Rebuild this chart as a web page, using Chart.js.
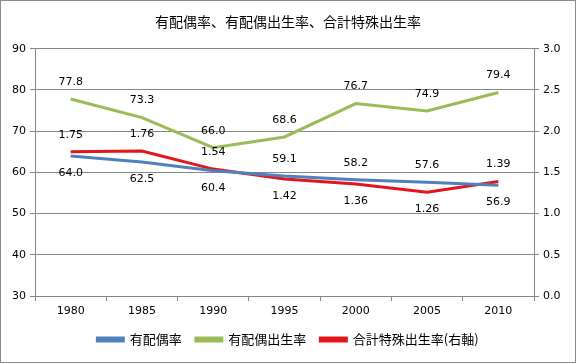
<!DOCTYPE html>
<html>
<head>
<meta charset="utf-8">
<script src="https://cdn.jsdelivr.net/npm/chart.js@4"></script>
<style>
  html, body { margin: 0; padding: 0; background: #fff; }
  #wrap { width: 576px; height: 363px; }
</style>
</head>
<body>
<div id="wrap"><canvas id="chart" width="576" height="363"></canvas></div>
<script>
const years = ['1980', '1985', '1990', '1995', '2000', '2005', '2010'];
const marriedRate = [64.0, 62.5, 60.4, 59.1, 58.2, 57.6, 56.9];
const maritalFertility = [77.8, 73.3, 66.0, 68.6, 76.7, 74.9, 79.4];
const totalFertility = [1.75, 1.76, 1.54, 1.42, 1.36, 1.26, 1.39];

// label side per point: 'a' above, 'b' below
const labelSide = [
    ['b', 'b', 'b', 'a', 'a', 'a', 'b'],
    ['a', 'a', 'a', 'a', 'a', 'a', 'a'],
    ['a', 'a', 'a', 'b', 'b', 'b', 'a']
];
const labelDigits = [1, 1, 2];

const numFont = '"DejaVu Sans", Verdana, sans-serif';
const jpFont = '"Noto Sans CJK JP", "Noto Sans", sans-serif';

const frame = {
    id: 'frame',
    beforeDraw(chart) {
        const ctx = chart.ctx;
        ctx.save();
        ctx.fillStyle = '#fff';
        ctx.fillRect(0, 0, chart.width, chart.height);
        ctx.strokeStyle = '#8c8c8c';
        ctx.lineWidth = 1;
        ctx.strokeRect(0.5, 0.5, chart.width - 1, chart.height - 1);
        ctx.restore();
    }
};

const valueLabels = {
    id: 'valueLabels',
    afterDatasetsDraw(chart) {
        const ctx = chart.ctx;
        ctx.save();
        ctx.font = '11px ' + numFont;
        ctx.fillStyle = '#000';
        ctx.textAlign = 'center';
        ctx.textBaseline = 'middle';
        chart.data.datasets.forEach((ds, i) => {
            const meta = chart.getDatasetMeta(i);
            meta.data.forEach((pt, j) => {
                const off = labelSide[i][j] === 'a' ? -17 : 17;
                ctx.fillText(ds.data[j].toFixed(labelDigits[i]), pt.x, pt.y + off);
            });
        });
        ctx.restore();
    }
};

new Chart(document.getElementById('chart'), {
    type: 'line',
    data: {
        labels: years,
        datasets: [{
            label: '有配偶率',
            data: marriedRate,
            borderColor: '#4f81bd',
            backgroundColor: '#4f81bd',
            borderWidth: 3,
            pointRadius: 0,
            yAxisID: 'y'
        }, {
            label: '有配偶出生率',
            data: maritalFertility,
            borderColor: '#9bbb59',
            backgroundColor: '#9bbb59',
            borderWidth: 3,
            pointRadius: 0,
            yAxisID: 'y'
        }, {
            label: '合計特殊出生率(右軸)',
            data: totalFertility,
            borderColor: '#e3161c',
            backgroundColor: '#e3161c',
            borderWidth: 3,
            pointRadius: 0,
            yAxisID: 'y1'
        }]
    },
    options: {
        responsive: false,
        animation: false,
        layout: { padding: { left: 0, right: 0, top: 0, bottom: 7 } },
        plugins: {
            title: {
                display: true,
                text: '有配偶率、有配偶出生率、合計特殊出生率',
                color: '#000',
                font: { family: jpFont, size: 14, weight: 'normal' },
                padding: { top: 13, bottom: 19 }
            },
            legend: {
                position: 'bottom',
                labels: {
                    color: '#000',
                    font: { family: jpFont, size: 13 },
                    boxWidth: 26,
                    boxHeight: 3,
                    padding: 14
                }
            },
            tooltip: { enabled: false }
        },
        scales: {
            x: {
                offset: true,
                grid: { display: true, drawOnChartArea: false, offset: true, tickLength: 5, color: '#868686' },
                border: { color: '#868686' },
                ticks: { color: '#000', font: { family: numFont, size: 11 }, padding: 4 },
                afterFit(s) { s.height = 23; }
            },
            y: {
                position: 'left',
                min: 30,
                max: 90,
                ticks: { stepSize: 10, color: '#000', font: { family: numFont, size: 11 }, padding: 4 },
                grid: { color: '#868686', tickLength: 5 },
                border: { color: '#868686' },
                afterFit(s) { s.width = 35; }
            },
            y1: {
                position: 'right',
                min: 0,
                max: 3,
                ticks: { stepSize: 0.5, color: '#000', font: { family: numFont, size: 11 }, padding: 4,
                    callback: v => v.toFixed(1) },
                grid: { drawOnChartArea: false, color: '#868686', tickLength: 5 },
                border: { color: '#868686' },
                afterFit(s) { s.width = 42; }
            }
        }
    },
    plugins: [frame, valueLabels]
});
</script>
</body>
</html>
